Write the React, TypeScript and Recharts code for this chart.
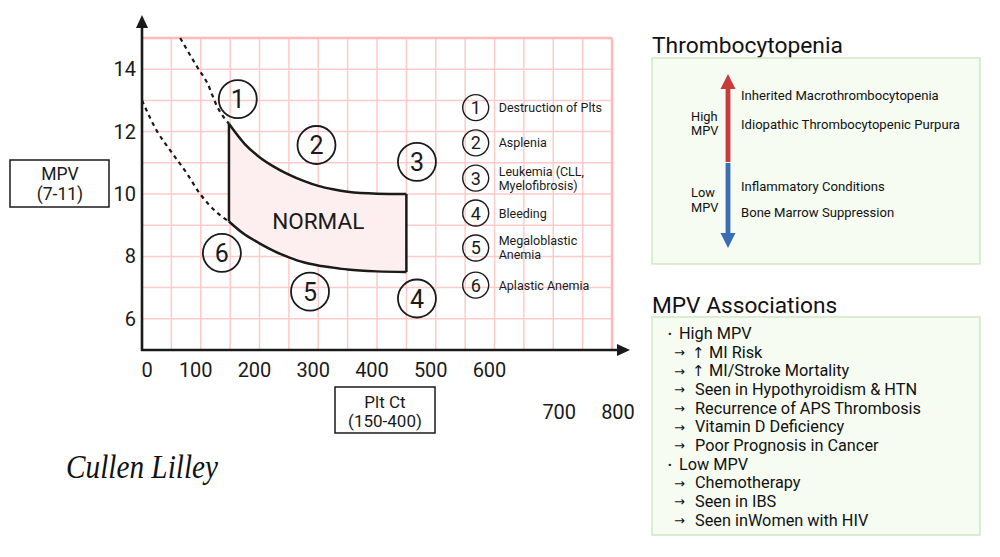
import React from 'react';
import { ComposedChart, XAxis, YAxis, Area, Line, Scatter, ReferenceLine } from 'recharts';

const FONT = 'Roboto, "Noto Sans", sans-serif';
const INK = '#1a1a1a';

// axes
const xTicks = [0, 100, 200, 300, 400, 500, 600, 700, 800];
const yTicks = [6, 8, 10, 12, 14];
const gridX = [50, 100, 150, 200, 250, 300, 350, 400, 450, 500, 550, 600, 650, 700, 750];
const gridY = [6, 7, 8, 9, 10, 11, 12, 13, 14];

// normal zone: plt, lower mpv, upper mpv
const normalBand = [
  { plt: 148, lo: 9.12, hi: 12.25 },
  { plt: 175, lo: 8.7, hi: 11.6 },
  { plt: 200, lo: 8.42, hi: 11.18 },
  { plt: 225, lo: 8.17, hi: 10.87 },
  { plt: 250, lo: 7.97, hi: 10.62 },
  { plt: 275, lo: 7.81, hi: 10.42 },
  { plt: 300, lo: 7.71, hi: 10.26 },
  { plt: 325, lo: 7.64, hi: 10.15 },
  { plt: 350, lo: 7.58, hi: 10.07 },
  { plt: 400, lo: 7.52, hi: 10.01 },
  { plt: 450, lo: 7.5, hi: 10.0 },
];
const leftEdge = [{ plt: 148, mpv: 9.12 }, { plt: 148, mpv: 12.25 }];
const rightEdge = [{ plt: 450, mpv: 7.5 }, { plt: 450, mpv: 10.0 }];

const upperDash = [
  { plt: 65, mpv: 15 },
  { plt: 94, mpv: 14.07 },
  { plt: 111, mpv: 13.56 },
  { plt: 128, mpv: 12.8 },
  { plt: 148, mpv: 12.25 },
];
const lowerDash = [
  { plt: 0, mpv: 13.0 },
  { plt: 26, mpv: 12.0 },
  { plt: 48, mpv: 11.4 },
  { plt: 76, mpv: 10.67 },
  { plt: 99, mpv: 10.0 },
  { plt: 128, mpv: 9.4 },
  { plt: 148, mpv: 9.12 },
];

const zoneMarkers = [
  { plt: 163, mpv: 13.04, n: '1' },
  { plt: 297, mpv: 11.57, n: '2' },
  { plt: 468, mpv: 11.03, n: '3' },
  { plt: 468, mpv: 6.65, n: '4' },
  { plt: 286, mpv: 6.87, n: '5' },
  { plt: 136, mpv: 8.11, n: '6' },
];

const legendMarkers = [
  { plt: 568, mpv: 12.77, n: '1', lines: ['Destruction of Plts'] },
  { plt: 568, mpv: 11.64, n: '2', lines: ['Asplenia'] },
  { plt: 568, mpv: 10.51, n: '3', lines: ['Leukemia (CLL,', 'Myelofibrosis)'] },
  { plt: 568, mpv: 9.39, n: '4', lines: ['Bleeding'] },
  { plt: 568, mpv: 8.27, n: '5', lines: ['Megaloblastic', 'Anemia'] },
  { plt: 568, mpv: 7.08, n: '6', lines: ['Aplastic Anemia'] },
];

const normalLabel = [{ plt: 300, mpv: 9.13, text: 'NORMAL' }];

const highMpvCauses = ['Inherited Macrothrombocytopenia', 'Idiopathic Thrombocytopenic Purpura'];
const lowMpvCauses = ['Inflammatory Conditions', 'Bone Marrow Suppression'];
const highAssoc = [
  '↑ MI Risk',
  '↑ MI/Stroke Mortality',
  'Seen in Hypothyroidism & HTN',
  'Recurrence of APS Thrombosis',
  'Vitamin D Deficiency',
  'Poor Prognosis in Cancer',
];
const lowAssoc = ['Chemotherapy', 'Seen in IBS', 'Seen inWomen with HIV'];

const XTick = (p: any) => {
  const v = p.payload.value;
  const late = v >= 700;
  const dx = v === 0 ? 5 : late ? 6 : -5;
  return (
    <text x={p.x + dx} y={p.y + (late ? 61 : 19)} textAnchor="middle" fontSize={20} fill={INK} fontFamily={FONT}>
      {v}
    </text>
  );
};

const YTick = (p: any) => (
  <text x={p.x + 2} y={p.y + 7} textAnchor="end" fontSize={20} fill={INK} fontFamily={FONT}>
    {p.payload.value}
  </text>
);

const ZoneMark = (p: any) => (
  <g>
    <circle cx={p.cx} cy={p.cy} r={19} fill="none" stroke={INK} strokeWidth={1.8} />
    <text x={p.cx} y={p.cy + 9} textAnchor="middle" fontSize={25} fill={INK} fontFamily={FONT}>
      {p.payload.n}
    </text>
  </g>
);

const LegendMark = (p: any) => {
  const lines: string[] = p.payload.lines;
  const y0 = p.cy + 4.5 - (lines.length - 1) * 7;
  return (
    <g>
      <circle cx={p.cx} cy={p.cy} r={13} fill="none" stroke={INK} strokeWidth={1.4} />
      <text x={p.cx} y={p.cy + 6.5} textAnchor="middle" fontSize={18} fill={INK} fontFamily={FONT}>
        {p.payload.n}
      </text>
      {lines.map((t, i) => (
        <text key={i} x={p.cx + 23} y={y0 + i * 14} fontSize={12.5} fill={INK} fontFamily={FONT}>
          {t}
        </text>
      ))}
    </g>
  );
};

const NormalText = (p: any) => (
  <text x={p.cx} y={p.cy + 8} textAnchor="middle" fontSize={22.5} fill={INK} fontFamily={FONT}>
    {p.payload.text}
  </text>
);

export default function App() {
  const assocLines = [
    { kind: 'head', text: 'High MPV' },
    ...highAssoc.map((t) => ({ kind: 'item', text: t })),
    { kind: 'head', text: 'Low MPV' },
    ...lowAssoc.map((t) => ({ kind: 'item', text: t })),
  ];

  return (
    <div style={{ position: 'absolute', left: 0, top: 0, width: 1000, height: 557, background: '#fff', fontFamily: FONT }}>
      <div style={{ position: 'absolute', left: 0, top: 0 }}>
        <ComposedChart width={1000} height={557} margin={{ top: 38, right: 388, bottom: 177, left: 82 }}>
          <XAxis
            type="number"
            dataKey="plt"
            domain={[0, 800]}
            ticks={xTicks}
            interval={0}
            axisLine={false}
            tickLine={false}
            tick={<XTick />}
            height={30}
          />
          <YAxis
            type="number"
            domain={[5, 15]}
            ticks={yTicks}
            interval={0}
            axisLine={false}
            tickLine={false}
            tick={<YTick />}
            width={60}
          />
          {gridX.map((v) => (
            <ReferenceLine key={'gx' + v} x={v} stroke="#ffcaca" strokeWidth={1.5} zIndex={-10} />
          ))}
          {gridY.map((v) => (
            <ReferenceLine key={'gy' + v} y={v} stroke="#ffcaca" strokeWidth={1.5} zIndex={-10} />
          ))}
          <ReferenceLine x={800} stroke="#ffb9b9" strokeWidth={2.5} zIndex={-10} />
          <ReferenceLine y={15} stroke="#ffb9b9" strokeWidth={2.5} zIndex={-10} />
          <Area
            data={normalBand}
            dataKey={(d: any) => [d.lo, d.hi]}
            type="monotone"
            stroke={INK}
            strokeWidth={2.5}
            fill="#fdeeef"
            fillOpacity={1}
            dot={false}
            activeDot={false}
            isAnimationActive={false}
          />
          <Line data={leftEdge} dataKey="mpv" type="linear" stroke={INK} strokeWidth={2.5} dot={false} activeDot={false} isAnimationActive={false} />
          <Line data={rightEdge} dataKey="mpv" type="linear" stroke={INK} strokeWidth={2.5} dot={false} activeDot={false} isAnimationActive={false} />
          <Line data={upperDash} dataKey="mpv" type="monotone" stroke={INK} strokeWidth={2.2} strokeDasharray="4 4" dot={false} activeDot={false} isAnimationActive={false} />
          <Line data={lowerDash} dataKey="mpv" type="monotone" stroke={INK} strokeWidth={2.2} strokeDasharray="4 4" dot={false} activeDot={false} isAnimationActive={false} />
          <Scatter data={normalLabel} dataKey="mpv" shape={<NormalText />} isAnimationActive={false} />
          <Scatter data={zoneMarkers} dataKey="mpv" shape={<ZoneMark />} isAnimationActive={false} />
          <Scatter data={legendMarkers} dataKey="mpv" shape={<LegendMark />} isAnimationActive={false} />
        </ComposedChart>
      </div>

      <svg width={1000} height={557} style={{ position: 'absolute', left: 0, top: 0, pointerEvents: 'none' }}>
        {/* axis arrows */}
        <line x1={142} y1={351} x2={142} y2={26} stroke={INK} strokeWidth={2.6} />
        <polygon points="142,15 136,28 148,28" fill={INK} />
        <line x1={141} y1={350} x2={619} y2={350} stroke={INK} strokeWidth={2.6} />
        <polygon points="630,350 617,344 617,356" fill={INK} />

        {/* axis title boxes */}
        <rect x={10} y={160} width={99} height={47} fill="#fff" stroke={INK} strokeWidth={1.5} />
        <text x={60} y={180} textAnchor="middle" fontSize={17.5} fill={INK} fontFamily={FONT}>MPV</text>
        <text x={60} y={200} textAnchor="middle" fontSize={17.5} fill={INK} fontFamily={FONT}>(7-11)</text>
        <rect x={335} y={387} width={100} height={46} fill="#fff" stroke={INK} strokeWidth={1.5} />
        <text x={385} y={408} textAnchor="middle" fontSize={17} fill={INK} fontFamily={FONT}>Plt Ct</text>
        <text x={385} y={427} textAnchor="middle" fontSize={17} fill={INK} fontFamily={FONT}>(150-400)</text>

        {/* signature */}
        <text x={66} y={478} fontSize={34} fontStyle="italic" fill="#111" fontFamily='"Liberation Serif", serif' textLength={152} lengthAdjust="spacingAndGlyphs">
          Cullen Lilley
        </text>

        {/* Thrombocytopenia panel */}
        <text x={652} y={53} fontSize={22.8} fill="#111" fontFamily={FONT}>Thrombocytopenia</text>
        <rect x={652} y={58} width={328} height={206} fill="#f6fcf2" stroke="#cfe7c5" strokeWidth={1.5} />
        <rect x={725.6} y={87} width={4.8} height={75} fill="#c93a3a" />
        <polygon points="728,74 720.5,89 735.5,89" fill="#c93a3a" />
        <rect x={725.6} y={163} width={4.8} height={72} fill="#3b6db5" />
        <polygon points="728,248 720.5,233 735.5,233" fill="#3b6db5" />
        <text x={691} y={121} fontSize={12.8} fill="#111" fontFamily={FONT}>High</text>
        <text x={691} y={135} fontSize={12.8} fill="#111" fontFamily={FONT}>MPV</text>
        <text x={691} y={197} fontSize={12.8} fill="#111" fontFamily={FONT}>Low</text>
        <text x={691} y={211.5} fontSize={12.8} fill="#111" fontFamily={FONT}>MPV</text>
        {highMpvCauses.map((t, i) => (
          <text key={t} x={741} y={99.5 + i * 29} fontSize={13.1} fill="#111" fontFamily={FONT}>{t}</text>
        ))}
        {lowMpvCauses.map((t, i) => (
          <text key={t} x={741} y={191 + i * 25.5} fontSize={13.1} fill="#111" fontFamily={FONT}>{t}</text>
        ))}

        {/* MPV Associations panel */}
        <text x={652} y={313} fontSize={22.7} fill="#111" fontFamily={FONT}>MPV Associations</text>
        <rect x={652} y={317} width={328} height={218} fill="#f6fcf2" stroke="#cfe7c5" strokeWidth={1.5} />
        {assocLines.map((l, i) => {
          const y = 339 + i * 18.65;
          const up = l.text.startsWith('↑');
          return l.kind === 'head' ? (
            <g key={i}>
              <text x={668} y={y - 1} fontSize={11} fill="#111" fontFamily={FONT}>•</text>
              <text x={679} y={y} fontSize={16.3} fill="#111" fontFamily={FONT}>{l.text}</text>
            </g>
          ) : (
            <g key={i}>
              <text x={674} y={y - 0.5} fontSize={13} fill="#111" fontFamily='"DejaVu Sans", sans-serif'>→</text>
              {up ? (
                <>
                  <text x={692} y={y} fontSize={15} fill="#111" fontFamily='"DejaVu Sans", sans-serif'>↑</text>
                  <text x={709} y={y} fontSize={16.3} fill="#111" fontFamily={FONT}>{l.text.slice(2)}</text>
                </>
              ) : (
                <text x={695} y={y} fontSize={16.3} fill="#111" fontFamily={FONT}>{l.text}</text>
              )}
            </g>
          );
        })}
      </svg>
    </div>
  );
}
